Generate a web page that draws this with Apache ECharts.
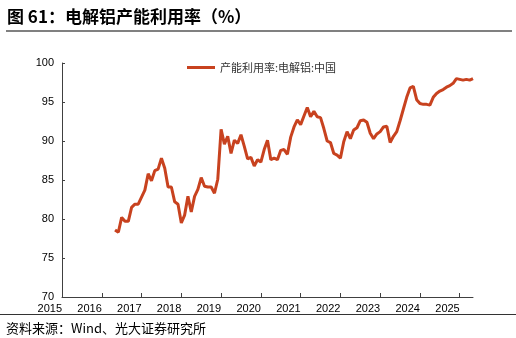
<!DOCTYPE html>
<html>
<head>
<meta charset="utf-8">
<script src="https://cdn.jsdelivr.net/npm/echarts@6/dist/echarts.min.js"></script>
<style>
html,body{margin:0;padding:0;background:#fff;}
#wrap{position:relative;width:516px;height:338px;overflow:hidden;}
#title{position:absolute;left:7px;top:3px;font:bold 17px "Noto Sans CJK SC",sans-serif;color:#000;white-space:nowrap;}
#rule1{position:absolute;left:6px;top:30px;width:506px;height:2px;background:#808080;}
#rule2{position:absolute;left:0;top:314px;width:516px;height:1px;background:#333;}
#src{position:absolute;left:6px;top:318px;font:13px "Noto Sans CJK SC",sans-serif;color:#000;white-space:nowrap;}
#chart{position:absolute;left:0;top:0;width:516px;height:338px;}
</style>
</head>
<body>
<div id="wrap">
<div id="chart"></div>
<div id="title">图 61：电解铝产能利用率（%）</div>
<div id="rule1"></div>
<div id="rule2"></div>
<div id="src">资料来源：Wind、光大证券研究所</div>
</div>
<script>
// Monthly observations, May 2016 - May 2025
const startYear = 2016;
const startMonth = 5;
const seriesName = '产能利用率:电解铝:中国';
const values = [
  78.6, 78.3, 80.2, 79.7, 79.7, 81.5, 81.9, 81.9,            // 2016 May-Dec
  82.8, 83.7, 85.8, 84.9, 86.2, 86.4, 87.8, 86.5, 84.1, 84.1, 82.2, 81.9, // 2017
  79.5, 80.5, 82.9, 80.9, 82.9, 83.8, 85.3, 84.2, 84.1, 84.1, 83.3, 85.1, // 2018
  91.5, 89.6, 90.6, 88.4, 90.1, 89.7, 90.8, 89.3, 87.7, 87.9, 86.8, 87.6, // 2019
  87.3, 88.9, 90.1, 87.6, 87.8, 87.6, 88.8, 88.9, 88.3, 90.5, 91.8, 92.7, // 2020
  92.1, 93.2, 94.3, 93.1, 93.8, 93.1, 93.0, 91.6, 90.0, 89.8, 88.4, 88.2, // 2021
  87.8, 89.9, 91.2, 90.3, 91.4, 91.7, 92.6, 92.7, 92.4, 91.0, 90.3, 90.9, // 2022
  91.2, 91.8, 91.9, 89.8, 90.6, 91.2, 92.6, 94.1, 95.6, 96.8, 97.0, 95.3, // 2023
  94.8, 94.7, 94.7, 94.6, 95.6, 96.1, 96.4, 96.6, 96.9, 97.1, 97.4, 98.0, // 2024
  97.9, 97.8, 97.9, 97.8, 98.0                                 // 2025 Jan-May
];
const yearLabels = [2015, 2016, 2017, 2018, 2019, 2020, 2021, 2022, 2023, 2024, 2025];
const yTicks = [70, 75, 80, 85, 90, 95, 100];

const pts = values.map((v, i) => {
  const m = startMonth - 1 + i;
  const y = startYear + Math.floor(m / 12);
  const mo = m % 12;
  return [y + mo / 12, v];
});
const lastX = pts[pts.length - 1][0];

const chart = echarts.init(document.getElementById('chart'), null, {renderer: 'canvas'});
chart.setOption({
  animation: false,
  backgroundColor: '#fff',
  grid: {left: 62, right: 43, top: 63, bottom: 41},
  legend: {
    show: true,
    left: 182, top: 57,
    icon: 'rect',
    itemWidth: 28, itemHeight: 3,
    itemGap: 4,
    textStyle: {fontFamily: '"Noto Sans CJK SC", sans-serif', fontSize: 11, color: '#333'},
    data: [seriesName]
  },
  xAxis: {
    type: 'value',
    min: yearLabels[0],
    max: lastX,
    interval: 1,
    splitLine: {show: false},
    axisLine: {lineStyle: {color: '#404040', width: 1}},
    axisTick: {show: true, inside: true, length: 4, lineStyle: {color: '#404040'},
      customValues: yearLabels.slice(1)},
    axisLabel: {
      customValues: yearLabels,
      align: 'right',
      margin: 6,
      fontFamily: '"Liberation Sans", Arial, sans-serif',
      fontSize: 11,
      color: '#000',
      formatter: v => String(Math.round(v))
    }
  },
  yAxis: {
    type: 'value',
    min: yTicks[0],
    max: yTicks[yTicks.length - 1],
    interval: 5,
    splitLine: {show: false},
    axisLine: {show: true, lineStyle: {color: '#404040', width: 1}},
    axisTick: {show: true, inside: true, length: 3, lineStyle: {color: '#404040'}},
    axisLabel: {
      margin: 8,
      fontFamily: '"Liberation Sans", Arial, sans-serif',
      fontSize: 11,
      color: '#000'
    }
  },
  series: [{
    name: seriesName,
    type: 'line',
    data: pts,
    symbol: 'none',
    itemStyle: {color: '#C8421F'},
    lineStyle: {color: '#C8421F', width: 3}
  }]
});
</script>
</body>
</html>
